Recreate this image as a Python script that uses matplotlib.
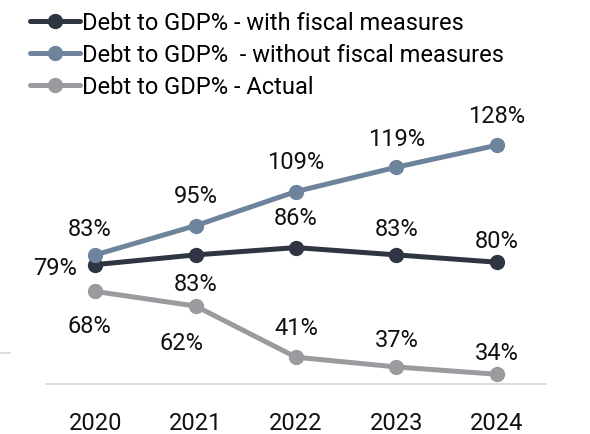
import matplotlib
matplotlib.use("Agg")
import matplotlib.pyplot as plt
from matplotlib.lines import Line2D

plt.rcParams['font.family'] = ['Roboto', 'DejaVu Sans']

# ---------------------- Data -------------------------
years = ['2020', '2021', '2022', '2023', '2024']
with_measures = [79, 83, 86, 83, 80]
without_measures = [83, 95, 109, 119, 128]
actual = [68, 62, 41, 37, 34]

series_names = ['Debt to GDP% - with fiscal measures',
                'Debt to GDP%  - without fiscal measures',
                'Debt to GDP% - Actual']
colors = ['#2f3542', '#6e849c', '#9a9b9f']

# label offsets (points) per series / year
offsets = [
    [(-29, -3), (0, -21), (0, 21), (0, 18), (0, 15)],
    [(-4, 18), (0, 21), (0, 21), (0, 20), (0, 21)],
    [(-4, -25), (-10, -27), (0, 21), (0, 19), (0, 15)],
]

fs = 17
fig = plt.figure(figsize=(5.90, 4.34), dpi=100)
ax = fig.add_axes([46 / 590, 1 - 384 / 434, 500 / 590, 254 / 434])

x = list(range(len(years)))
all_series = [with_measures, without_measures, actual]
handles = []
for vals, name, c, offs in zip(all_series, series_names, colors, offsets):
    h, = ax.plot(x, vals, color=c, lw=3.6, marker='o', markersize=10,
                 solid_capstyle='round', label=name, zorder=3)
    handles.append(h)
    for xi, v, off in zip(x, vals, offs):
        ax.annotate(f"{v}%", (xi, v), xytext=off, textcoords='offset points',
                    ha='center', va='center', fontsize=fs, color='#111111')

ax.set_xlim(-0.49, 4.49)
ax.set_ylim(30, 30 + 254 / 2.436)
ax.set_xticks(x)
ax.set_xticklabels(years, fontsize=fs, color='#111111')
ax.tick_params(axis='x', length=0, pad=20)
ax.set_yticks([])
for s in ['top', 'right', 'left']:
    ax.spines[s].set_visible(False)
ax.spines['bottom'].set_color('#d9d9d9')
ax.spines['bottom'].set_linewidth(1.3)

# small stray line on the left edge
fig.add_artist(Line2D([0, 10 / 590], [1 - 353 / 434, 1 - 353 / 434],
                      color='#d9d9d9', lw=1.3))

fig.legend(handles=handles, loc='upper left', bbox_to_anchor=(0.035, 0.995),
           frameon=False, fontsize=fs, handlelength=2.1, handletextpad=0.1,
           labelspacing=0.38, borderaxespad=0)

plt.savefig('out.png', dpi=100)
